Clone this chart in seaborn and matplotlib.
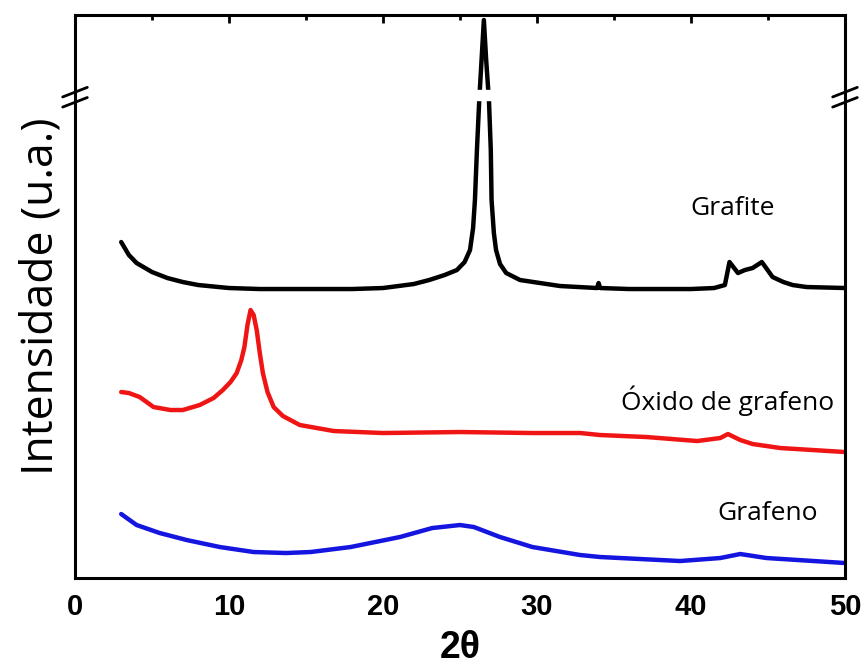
import matplotlib
matplotlib.use("Agg")
import matplotlib.pyplot as plt
from matplotlib.ticker import MultipleLocator
import seaborn as sns

# XRD patterns (2theta, intensity in arbitrary units)
grafite_x = [3, 3.5, 4, 5, 6, 7, 8, 10, 12, 15, 18, 20, 22, 23, 24, 24.8, 25.3,
             25.65, 25.85, 25.97, 26.1, 26.25, 26.4, 26.55, 26.7, 26.88, 27.0,
             27.05, 27.2, 27.34, 27.6, 28.0, 28.9, 31.5, 33.9, 34.0, 34.1, 36,
             38, 40, 41.5, 42.2, 42.5, 42.8, 43.05, 43.5, 44, 44.6, 45.3, 46,
             46.6, 47.5, 50]
grafite_y = [336, 323, 315, 306, 300, 296, 293, 290, 289, 289, 289, 290, 294,
             298, 303, 308, 316, 328, 350, 378, 428, 478, 518, 558, 518, 478,
             428, 378, 345, 328, 314, 305, 298, 292, 290, 295, 290, 289, 289,
             289, 290, 293, 316, 310, 305, 308, 310, 316, 301, 296, 293, 291, 290]

oxido_x = [3, 3.5, 4.2, 5.1, 6.2, 7, 8.1, 9, 9.6, 10.1, 10.5, 10.8, 11.0, 11.2,
           11.4, 11.6, 11.8, 12.0, 12.2, 12.5, 12.9, 13.5, 14.6, 16.8, 20, 25,
           29.7, 32.8, 34.1, 37.1, 40.4, 41.9, 42.4, 43.2, 44.0, 45.8, 50]
oxido_y = [186, 185, 181, 171, 168, 168, 173, 180, 188, 196, 205, 218, 231, 253,
           268, 263, 248, 225, 205, 186, 171, 162, 153, 147, 145, 146, 145, 145,
           143, 141, 137, 140, 144, 138, 134, 130, 126]

grafeno_x = [3.0, 4.0, 5.5, 7.25, 9.4, 11.6, 13.7, 15.3, 17.9, 21.1, 23.2, 25.0,
             25.9, 27.6, 29.7, 32.8, 34.1, 39.3, 41.9, 43.2, 44.9, 50]
grafeno_y = [64, 53, 45, 38, 31, 26, 25, 26, 31, 41, 50, 53, 51, 41, 31, 23, 21,
             17, 20, 24, 20, 15]

labels = ["Grafite", "Óxido de grafeno", "Grafeno"]
label_pos = [(42.7, 363), (42.4, 168), (45.0, 58)]

sns.set_style("white")
plt.rcParams['font.family'] = ['Open Sans', 'DejaVu Sans']
plt.rcParams['text.color'] = 'black'
plt.rcParams['axes.labelcolor'] = 'black'
plt.rcParams['xtick.color'] = 'black'

fig = plt.figure(figsize=(8.64, 6.68), dpi=100)
ax = fig.add_axes([0.0868, 0.1347, 0.8912, 0.8428])

sns.lineplot(x=grafite_x, y=grafite_y, color='black', lw=3.2, ax=ax, estimator=None)
sns.lineplot(x=oxido_x, y=oxido_y, color='#f01515', lw=3.2, ax=ax, estimator=None)
sns.lineplot(x=grafeno_x, y=grafeno_y, color='#1515e0', lw=3.2, ax=ax, estimator=None)

# axis break: white gap through the graphite peak
ax.fill_between([25.6, 27.4], 478, 488, color='white', zorder=5)
for xa in (0, 1):
    for yc in (0.863, 0.845):
        ax.plot([xa - 0.016, xa + 0.016], [yc - 0.0085, yc + 0.0085],
                transform=ax.transAxes, color='black', lw=2, clip_on=False, zorder=6)

for txt, (tx, ty) in zip(labels, label_pos):
    ax.text(tx, ty, txt, ha='center', va='baseline', fontsize=19, color='black')

ax.set_xlim(0, 50)
ax.set_ylim(0, 563)
ax.set_yticks([])
ax.xaxis.set_major_locator(MultipleLocator(10))
ax.xaxis.set_minor_locator(MultipleLocator(5))
ax.tick_params(axis='x', which='both', direction='in', top=True, width=2, pad=11)
ax.tick_params(axis='x', which='major', length=6)
ax.tick_params(axis='x', which='minor', length=3.5)
for lab in ax.get_xticklabels():
    lab.set_family(['Liberation Sans Narrow', 'Liberation Sans'])
    lab.set_fontweight('bold')
    lab.set_fontsize(21)
for sp in ax.spines.values():
    sp.set_linewidth(2.2)
    sp.set_color('black')

ax.set_xlabel('2θ', fontsize=27, fontweight='bold',
              family=['Liberation Sans', 'DejaVu Sans'], labelpad=6)
ax.set_ylabel('Intensidade (u.a.)', fontsize=32, labelpad=8)

fig.savefig('out.png', dpi=100)
